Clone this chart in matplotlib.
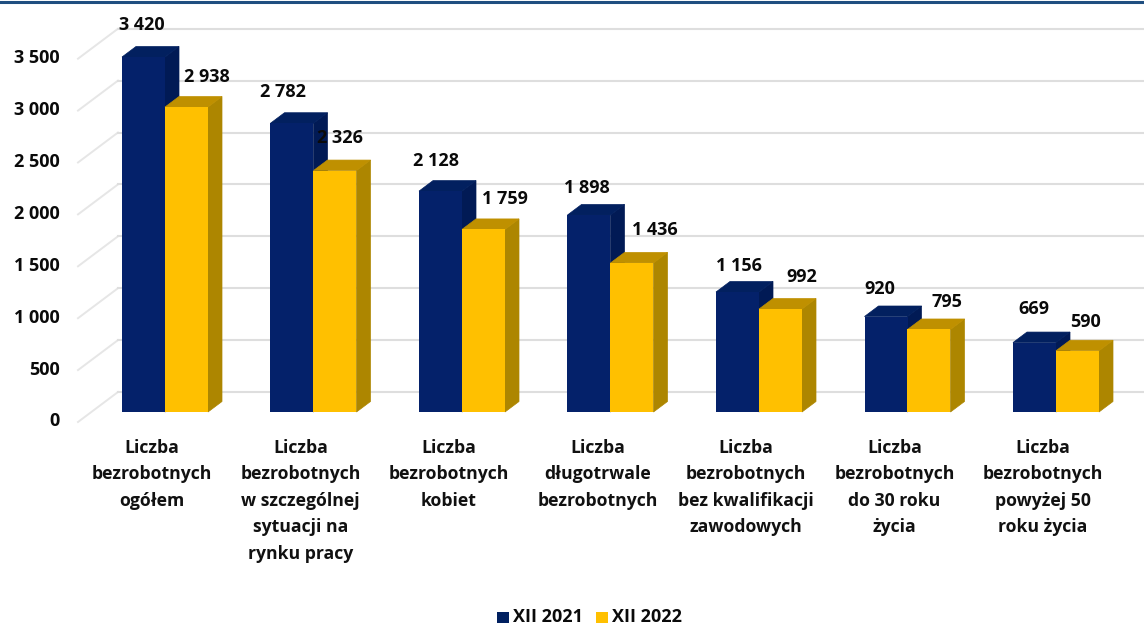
import matplotlib
matplotlib.use("Agg")
import matplotlib.pyplot as plt
from matplotlib.patches import Polygon, Rectangle
from matplotlib.lines import Line2D

categories = [
    "Liczba\nbezrobotnych\nogółem",
    "Liczba\nbezrobotnych\nw szczególnej\nsytuacji na\nrynku pracy",
    "Liczba\nbezrobotnych\nkobiet",
    "Liczba\ndługotrwale\nbezrobotnych",
    "Liczba\nbezrobotnych\nbez kwalifikacji\nzawodowych",
    "Liczba\nbezrobotnych\ndo 30 roku\nżycia",
    "Liczba\nbezrobotnych\npowyżej 50\nroku życia",
]
xii_2021 = [3420, 2782, 2128, 1898, 1156, 920, 669]
xii_2022 = [2938, 2326, 1759, 1436, 992, 795, 590]
labels_2021 = ["3 420", "2 782", "2 128", "1 898", "1 156", "920", "669"]
labels_2022 = ["2 938", "2 326", "1 759", "1 436", "992", "795", "590"]
y_ticks = [0, 500, 1000, 1500, 2000, 2500, 3000, 3500]
y_tick_labels = ["0", "500", "1 000", "1 500", "2 000", "2 500", "3 000", "3 500"]

W, H = 1144, 624
PX_X = 148.5
PX_Y = 0.1038
X0, Y0 = 165.0, 412.0
BAR = 43 / PX_X
DX, DY = 14 / PX_X, 10.5 / PX_Y
WDX, WDY = 40 / PX_X, 30 / PX_Y
WALL_FRONT = -10 / PX_Y

NAVY, NAVY_SIDE, NAVY_TOP = "#04216A", "#011A55", "#02205F"
YEL, YEL_SIDE, YEL_TOP = "#FFC000", "#AD8600", "#BF9000"
GRID = "#DEDEDE"
GRID_SLOPE = "#E6E6E6"
TXT = "#0A0A0A"
FONT = "Open Sans"

fig = plt.figure(figsize=(W / 100, H / 100), dpi=100)
ax = fig.add_axes([0, 0, 1, 1])
ax.set_xlim(-X0 / PX_X, (W - X0) / PX_X)
ax.set_ylim(-(H - Y0) / PX_Y, Y0 / PX_Y)
ax.axis("off")

x_wall_front = (78 - X0) / PX_X
x_right = (W - X0) / PX_X
for v in y_ticks:
    y1 = v + WALL_FRONT
    y2 = y1 + WDY
    ax.plot([x_wall_front, x_wall_front + WDX], [y1, y2],
            color=GRID_SLOPE, lw=1.4, zorder=1)
    ax.plot([x_wall_front + WDX, x_right], [y2, y2],
            color=GRID, lw=1.5, zorder=1)

def draw_series(values, offset, front, side, top, z):
    ax.bar([i + offset for i in range(len(values))], values, width=BAR,
           color=front, linewidth=0, zorder=z + 1)
    for i, v in enumerate(values):
        l = i + offset - BAR / 2
        r = i + offset + BAR / 2
        ax.add_patch(Polygon([(r, 0), (r + DX, DY), (r + DX, v + DY), (r, v)],
                             closed=True, fc=side, ec=side, lw=0.5, zorder=z))
        ax.add_patch(Polygon([(l, v), (l + DX, v + DY), (r + DX, v + DY), (r, v)],
                             closed=True, fc=top, ec=top, lw=0.5, zorder=z))

draw_series(xii_2021, -BAR / 2, NAVY, NAVY_SIDE, NAVY_TOP, 2)
draw_series(xii_2022, BAR / 2, YEL, YEL_SIDE, YEL_TOP, 4)

for v, t in zip(y_ticks, y_tick_labels):
    ax.annotate(t, xy=(-X0 / PX_X, v), xytext=(59.5 * 0.72, -9.5 * 0.72), textcoords="offset points",
                ha="right", va="center", fontsize=13, fontweight="bold",
                family=FONT, color=TXT, zorder=10)

off_2021 = [(-2, 32), (-9, 31), (-4, 30), (-2, 27), (2, 26), (-6, 27.5), (-1, 33.5)]
off_2022 = [(20, 30), (5, 33), (21.5, 30), (23, 33), (21, 32), (18, 27), (8.5, 29)]
for vals, labs, offs, shift in ((xii_2021, labels_2021, off_2021, -BAR / 2),
                                (xii_2022, labels_2022, off_2022, BAR / 2)):
    for i, (v, t, o) in enumerate(zip(vals, labs, offs)):
        ax.annotate(t, xy=(i + shift, v), xytext=(o[0] * 0.72, o[1] * 0.72),
                    textcoords="offset points", ha="center", va="center",
                    fontsize=13, fontweight="bold", family=FONT, color=TXT, zorder=10)

for i, c in enumerate(categories):
    ax.annotate(c, xy=(i, 0), xytext=(-13 * 0.72, -27 * 0.72), textcoords="offset points",
                ha="center", va="top", fontsize=12.7, fontweight="bold", family=FONT,
                color="#111111", linespacing=1.6, zorder=10)

fig.add_artist(Line2D([0, 1], [1 - 1.5 / H, 1 - 1.5 / H], color="#1F4E80", lw=2.2))

fig.add_artist(Rectangle((497 / W, 1 - 623 / H), 12 / W, 11.5 / H, fc="#002060", ec="none",
                         transform=fig.transFigure))
fig.add_artist(Rectangle((596 / W, 1 - 623 / H), 12 / W, 11.5 / H, fc=YEL, ec="none",
                         transform=fig.transFigure))
fig.text(513 / W, 1 - 617 / H, "XII 2021", ha="left", va="center", fontsize=13,
         fontweight="bold", family=FONT, color=TXT)
fig.text(612.5 / W, 1 - 617 / H, "XII 2022", ha="left", va="center", fontsize=13,
         fontweight="bold", family=FONT, color=TXT)

fig.savefig("out.png", dpi=100, facecolor="white")
